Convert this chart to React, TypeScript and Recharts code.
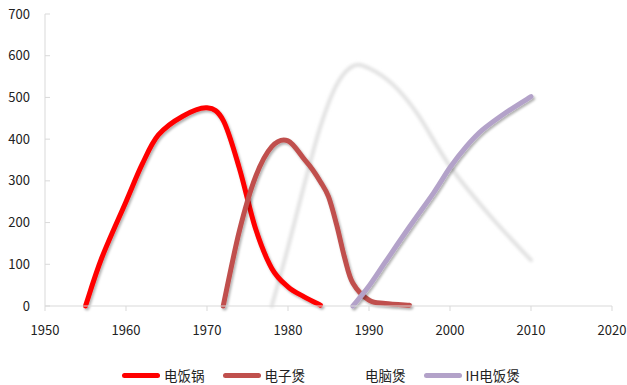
import React from 'react';
import { LineChart, Line, XAxis, YAxis, Legend } from 'recharts';

const FONT = '"Noto Sans CJK SC", "Noto Sans", sans-serif';
const AXIS_COLOR = '#d9d9d9';
const TEXT_COLOR = '#222';

// yearly sales curves, one pair of arrays per product
const riceCookerYears = [1955, 1957, 1960, 1962, 1964, 1967, 1970, 1972, 1974, 1976, 1978, 1980, 1982, 1984];
const riceCookerValues = [0, 115, 250, 340, 410, 455, 475, 445, 330, 185, 90, 46, 22, 2];

const electronicYears = [1972, 1974, 1976, 1978, 1980, 1982, 1983, 1984, 1985, 1986, 1987, 1988, 1990, 1992, 1995];
const electronicValues = [0, 180, 310, 382, 396, 352, 328, 298, 262, 195, 115, 55, 14, 6, 2];

const computerYears = [1978, 1980, 1982, 1984, 1986, 1988, 1990, 1993, 1996, 2000, 2005, 2010];
const computerValues = [0, 140, 290, 430, 530, 575, 570, 530, 460, 335, 215, 110];

const ihYears = [1988, 1990, 1992, 1995, 1998, 2000, 2002, 2004, 2007, 2010];
const ihValues = [0, 48, 105, 190, 272, 332, 382, 422, 465, 502];

const xTicks = [1950, 1960, 1970, 1980, 1990, 2000, 2010, 2020];
const yTicks = [0, 100, 200, 300, 400, 500, 600, 700];

const toPoints = (years: number[], values: number[]) =>
    years.map((year, i) => ({ year, value: values[i] }));

// Catmull-Rom style smoothing (control points at 1/6 of the neighbour chord)
const smoothCurve = (context: any) => {
    let pts: [number, number][] = [];
    return {
        areaStart() {},
        areaEnd() {},
        lineStart() {
            pts = [];
        },
        point(x: number, y: number) {
            pts.push([+x, +y]);
        },
        lineEnd() {
            if (!pts.length) return;
            context.moveTo(pts[0][0], pts[0][1]);
            for (let i = 0; i < pts.length - 1; i++) {
                const p0 = pts[Math.max(i - 1, 0)];
                const p1 = pts[i];
                const p2 = pts[i + 1];
                const p3 = pts[Math.min(i + 2, pts.length - 1)];
                context.bezierCurveTo(
                    p1[0] + (p2[0] - p0[0]) / 6,
                    p1[1] + (p2[1] - p0[1]) / 6,
                    p2[0] - (p3[0] - p1[0]) / 6,
                    p2[1] - (p3[1] - p1[1]) / 6,
                    p2[0],
                    p2[1]
                );
            }
        },
    };
};

interface SeriesDef {
    key: string;
    label: string;
    color: string;
    legendColor: string;
    data: { year: number; value: number }[];
    filter: string;
    width: number;
}

const riceCooker: SeriesDef = {
    key: 'riceCooker', label: '电饭锅', color: '#ff0000', legendColor: '#ff0000',
    data: toPoints(riceCookerYears, riceCookerValues), filter: 'url(#lineShadow)', width: 5,
};
const electronic: SeriesDef = {
    key: 'electronic', label: '电子煲', color: '#c0504d', legendColor: '#c0504d',
    data: toPoints(electronicYears, electronicValues), filter: 'url(#lineShadow)', width: 5,
};
const computer: SeriesDef = {
    key: 'computer', label: '电脑煲', color: '#e2e2e2', legendColor: '#ffffff',
    data: toPoints(computerYears, computerValues), filter: 'url(#softBlur)', width: 4,
};
const ih: SeriesDef = {
    key: 'ih', label: 'IH电饭煲', color: '#b3a2c9', legendColor: '#b3a2c9',
    data: toPoints(ihYears, ihValues), filter: 'url(#lineShadow)', width: 5,
};

// the faint curve sits underneath the others
const drawOrder = [computer, riceCooker, electronic, ih];
const legendOrder = [riceCooker, electronic, computer, ih];

const YTick = (props: any) => {
    const { x, y, payload } = props;
    return (
        <g>
            <line x1={x + 15} x2={x + 20} y1={y} y2={y} stroke={AXIS_COLOR} />
            <text x={x} y={y} dy={4.5} textAnchor="end" fill={TEXT_COLOR} fontSize={13} fontFamily={FONT}>
                {payload.value}
            </text>
        </g>
    );
};

const LegendContent = () => (
    <div
        style={{
            display: 'flex',
            alignItems: 'center',
            height: 20,
            paddingLeft: 122,
            fontFamily: FONT,
            fontSize: 13.5,
            color: TEXT_COLOR,
        }}
    >
        {legendOrder.map(s => (
            <div key={s.key} style={{ display: 'flex', alignItems: 'center', marginRight: 18 }}>
                <span
                    style={{
                        display: 'inline-block',
                        width: 38,
                        height: 5,
                        borderRadius: 3,
                        background: s.legendColor,
                        marginRight: 4,
                    }}
                />
                <span>{s.label}</span>
            </div>
        ))}
    </div>
);

export default function App() {
    return (
        <div style={{ position: 'absolute', left: 0, top: 0, width: 627, height: 385, background: '#fff' }}>
            <LineChart width={627} height={385} margin={{ top: 14, right: 15, left: 0, bottom: 0 }}>
                <defs>
                    <filter id="lineShadow" x="-10%" y="-10%" width="120%" height="120%">
                        <feDropShadow dx={1.5} dy={2} stdDeviation={1.2} floodColor="#000" floodOpacity={0.3} />
                    </filter>
                    <filter id="softBlur" x="-10%" y="-10%" width="120%" height="120%">
                        <feGaussianBlur stdDeviation={1.6} />
                    </filter>
                </defs>
                <XAxis
                    type="number"
                    dataKey="year"
                    domain={[1950, 2020]}
                    ticks={xTicks}
                    allowDuplicatedCategory={false}
                    height={59}
                    stroke={AXIS_COLOR}
                    tickSize={5}
                    tickMargin={15}
                    tick={{ fill: TEXT_COLOR, fontSize: 13, fontFamily: FONT }}
                />
                <YAxis
                    type="number"
                    domain={[0, 700]}
                    ticks={yTicks}
                    width={45}
                    stroke={AXIS_COLOR}
                    tickSize={0}
                    tickMargin={15}
                    tick={<YTick />}
                />
                <Legend verticalAlign="bottom" content={<LegendContent />} />
                {drawOrder.map(s => (
                    <Line
                        key={s.key}
                        data={s.data}
                        dataKey="value"
                        name={s.label}
                        type={smoothCurve as any}
                        stroke={s.color}
                        strokeWidth={s.width}
                        strokeLinecap="round"
                        filter={s.filter}
                        dot={false}
                        activeDot={false}
                        isAnimationActive={false}
                    />
                ))}
            </LineChart>
        </div>
    );
}
